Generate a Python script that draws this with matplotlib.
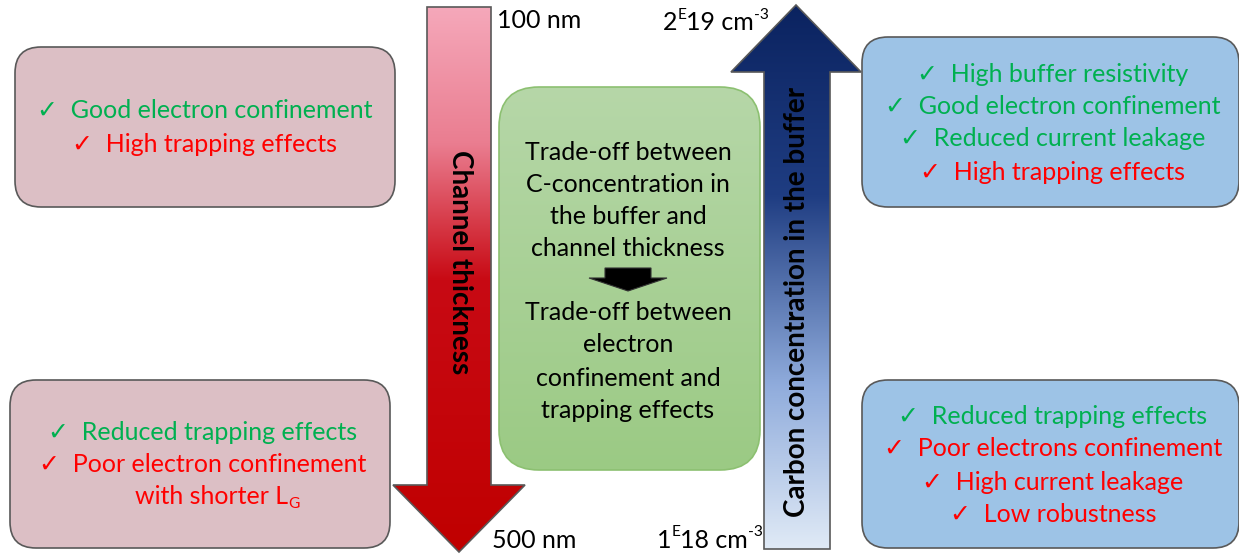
import numpy as np
import matplotlib
matplotlib.use("Agg")
import matplotlib.pyplot as plt
from matplotlib.patches import FancyBboxPatch, Polygon
from matplotlib.colors import LinearSegmentedColormap

plt.rcParams['font.family'] = ['Lato', 'DejaVu Sans']

GREEN = '#00b050'
RED = '#ff0000'

# ---- content ----
left_top_lines = [("✓  Good electron confinement", GREEN), ("✓  High trapping effects", RED)]
left_bottom_lines = [("✓  Reduced trapping effects", GREEN),
                     ("✓  Poor electron confinement", RED)]
left_bottom_extra = [("with shorter L", "n"), ("G", "sub")]
right_top_lines = [("✓  High buffer resistivity", GREEN),
                   ("✓  Good electron confinement", GREEN),
                   ("✓  Reduced current leakage", GREEN),
                   ("✓  High trapping effects", RED)]
right_bottom_lines = [("✓  Reduced trapping effects", GREEN),
                      ("✓  Poor electrons confinement", RED),
                      ("✓  High current leakage", RED),
                      ("✓  Low robustness", RED)]
center_top_lines = ["Trade-off between", "C-concentration in", "the buffer and", "channel thickness"]
center_bottom_lines = ["Trade-off between", "electron", "confinement and", "trapping effects"]
red_arrow_label = "Channel thickness"
blue_arrow_label = "Carbon concentration in the buffer"
red_top_label = "100 nm"
red_bottom_label = "500 nm"
blue_top_label = [("2", "n"), ("E", "sup"), ("19 cm", "n"), ("-3", "sup")]
blue_bottom_label = [("1", "n"), ("E", "sup"), ("18 cm", "n"), ("-3", "sup")]

W, H = 1239, 554
fig = plt.figure(figsize=(W / 100, H / 100), dpi=100)
ax = fig.add_axes([0, 0, 1, 1])
ax.set_xlim(0, W)
ax.set_ylim(H, 0)
ax.axis('off')
renderer = fig.canvas.get_renderer()

EDGE = '#595959'
FS = 18


def rbox(x0, y0, x1, y1, r, fc, ec, lw=1.2, z=2):
    p = FancyBboxPatch((x0 + r, y0 + r), x1 - x0 - 2 * r, y1 - y0 - 2 * r,
                       boxstyle=f"round,pad={r}", fc=fc, ec=ec, lw=lw, zorder=z)
    ax.add_patch(p)
    return p


def gradient_fill(patch, x0, x1, y0, y1, stops, z):
    cmap = LinearSegmentedColormap.from_list('g', stops)
    grad = np.linspace(0, 1, 256).reshape(-1, 1)
    im = ax.imshow(grad, extent=(x0, x1, y1, y0), cmap=cmap, aspect='auto',
                   zorder=z, interpolation='bilinear')
    im.set_clip_path(patch)


def lines_in(lines, cx, ys, fs=FS):
    for (t, c), y in zip(lines, ys):
        ax.text(cx, y, t, color=c, fontsize=fs, ha='center', va='center', zorder=5)


def rich(pieces, x, y, fs, color='black'):
    """Draw text pieces left to right; 'sup'/'sub' pieces are smaller and shifted."""
    for t, kind in pieces:
        if kind == "sup":
            txt = ax.text(x, y - fs * 0.42, t, fontsize=fs * 0.62, color=color,
                          ha='left', va='center', zorder=5)
        elif kind == "sub":
            txt = ax.text(x, y + fs * 0.38, t, fontsize=fs * 0.62, color=color,
                          ha='left', va='center', zorder=5)
        else:
            txt = ax.text(x, y, t, fontsize=fs, color=color, ha='left', va='center', zorder=5)
        bb = txt.get_window_extent(renderer)
        x += bb.width  # 1 px == 1 data unit
    return x


# ---- side boxes ----
rbox(15, 47, 395, 207, 26, '#dcbfc5', EDGE)
rbox(10, 380, 390, 548, 26, '#dcbfc5', EDGE)
rbox(862, 37, 1239, 207, 26, '#9dc3e6', EDGE)
rbox(862, 380, 1239, 548, 26, '#9dc3e6', EDGE)

lines_in(left_top_lines, 205, [110, 144])
lines_in(left_bottom_lines, 203, [433, 465])
rich(left_bottom_extra, 135, 497, FS, RED)
lines_in(right_top_lines, 1053, [74, 106, 139, 172])
lines_in(right_bottom_lines, 1053, [417, 449, 482, 515])

# ---- red arrow (down) ----
red_poly = [(427, 7), (491, 7), (491, 485), (525, 485), (459, 552), (393, 485), (427, 485)]
rp = Polygon(red_poly, closed=True, fc='none', ec=EDGE, lw=1.2, zorder=4)
ax.add_patch(rp)
rp_clip = Polygon(red_poly, closed=True, fc='none', ec='none')
ax.add_patch(rp_clip)
gradient_fill(rp_clip, 393, 525, 7, 552,
              [(0, '#f5a8ba'), (0.25, '#ea7d90'), (0.5, '#c80a14'), (1, '#c00000')], 3)
ax.text(460, 262, red_arrow_label, rotation=-90, fontsize=20, fontweight='bold',
        ha='center', va='center', zorder=5)
ax.text(497, 20, red_top_label, fontsize=18, ha='left', va='center', zorder=5)
ax.text(492, 540, red_bottom_label, fontsize=18, ha='left', va='center', zorder=5)

# ---- blue arrow (up) ----
blue_poly = [(764, 549), (830, 549), (830, 72), (861, 72), (796, 5), (731, 72), (764, 72)]
bp = Polygon(blue_poly, closed=True, fc='none', ec=EDGE, lw=1.2, zorder=4)
ax.add_patch(bp)
bp_clip = Polygon(blue_poly, closed=True, fc='none', ec='none')
ax.add_patch(bp_clip)
gradient_fill(bp_clip, 731, 861, 5, 549,
              [(0, '#0b2360'), (0.35, '#1f3d82'), (0.7, '#90acdc'), (1, '#e0eaf6')], 3)
ax.text(797, 302, blue_arrow_label, rotation=90, fontsize=20, fontweight='bold',
        ha='center', va='center', zorder=5)
rich(blue_top_label, 663, 23, 18)
rich(blue_bottom_label, 657, 540, 18)

# ---- centre green box ----
rbox(499, 87, 760, 470, 40, 'none', '#8cc071', lw=1.2, z=4)
gb_clip = rbox(499, 87, 760, 470, 40, 'none', 'none', lw=0, z=1)
gradient_fill(gb_clip, 499, 760, 87, 470, [(0, '#b6d7a8'), (1, '#9bca84')], 3)
for t, y in zip(center_top_lines, [152, 184, 216, 248]):
    ax.text(628, y, t, fontsize=18, ha='center', va='center', zorder=5)
for t, y in zip(center_bottom_lines, [313, 345, 378, 410]):
    ax.text(628, y, t, fontsize=18, ha='center', va='center', zorder=5)
black_arrow = [(605, 268), (651, 268), (651, 278), (667, 278), (628, 291), (589, 278), (605, 278)]
ax.add_patch(Polygon(black_arrow, closed=True, fc='black', ec='#333333', lw=0.8, zorder=5))

fig.savefig('out.png', dpi=100)
